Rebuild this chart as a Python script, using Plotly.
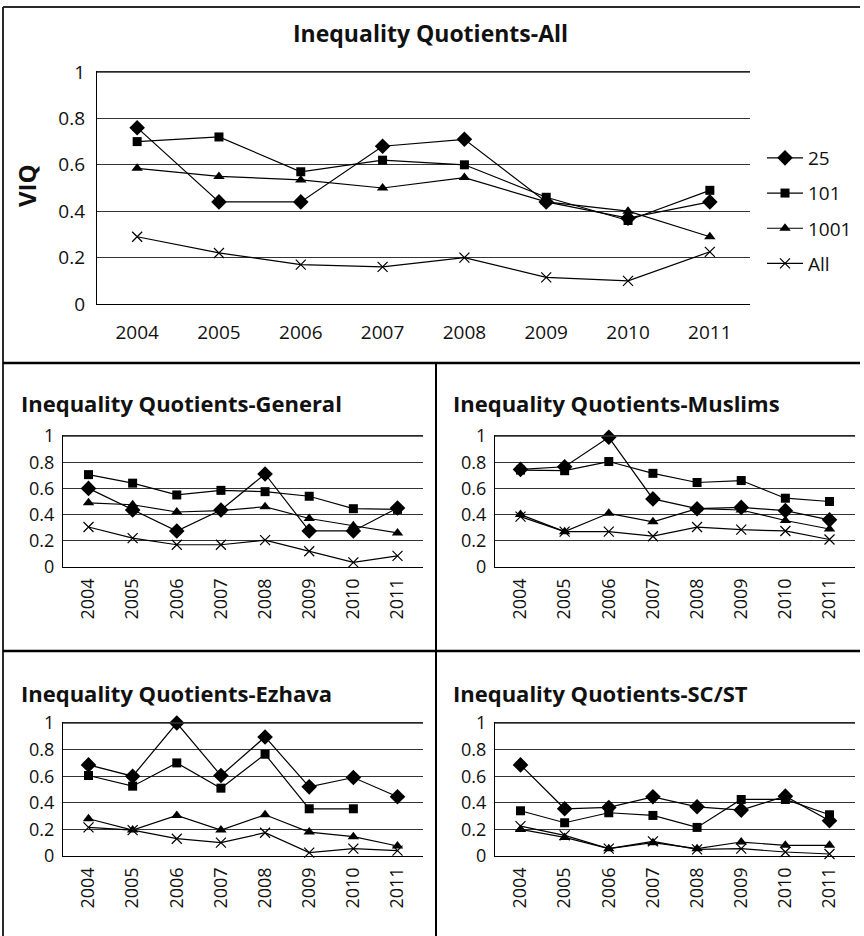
import plotly.graph_objects as go

# ---------------- data ----------------
years = ['2004', '2005', '2006', '2007', '2008', '2009', '2010', '2011']
series_names = ['25', '101', '1001', 'All']

all_25 = [0.76, 0.44, 0.44, 0.68, 0.71, 0.44, 0.37, 0.44]
all_101 = [0.70, 0.72, 0.57, 0.62, 0.60, 0.46, 0.36, 0.49]
all_1001 = [0.585, 0.55, 0.535, 0.50, 0.545, 0.44, 0.40, 0.29]
all_all = [0.29, 0.22, 0.17, 0.16, 0.20, 0.115, 0.10, 0.225]

gen_25 = [0.60, 0.435, 0.275, 0.435, 0.71, 0.275, 0.275, 0.45]
gen_101 = [0.705, 0.64, 0.55, 0.585, 0.575, 0.54, 0.445, 0.44]
gen_1001 = [0.49, 0.475, 0.42, 0.43, 0.46, 0.37, 0.315, 0.26]
gen_all = [0.305, 0.22, 0.17, 0.17, 0.205, 0.12, 0.035, 0.085]

mus_25 = [0.745, 0.765, 0.99, 0.52, 0.445, 0.455, 0.43, 0.36]
mus_101 = [0.74, 0.735, 0.805, 0.715, 0.645, 0.66, 0.525, 0.50]
mus_1001 = [0.40, 0.27, 0.41, 0.345, 0.445, 0.435, 0.355, 0.29]
mus_all = [0.385, 0.27, 0.27, 0.235, 0.305, 0.285, 0.275, 0.21]

ezh_25 = [0.685, 0.60, 1.0, 0.605, 0.895, 0.52, 0.59, 0.445]
ezh_101 = [0.605, 0.525, 0.70, 0.51, 0.765, 0.355, 0.355, None]
ezh_1001 = [0.28, 0.195, 0.305, 0.195, 0.31, 0.18, 0.145, 0.075]
ezh_all = [0.215, 0.195, 0.13, 0.10, 0.175, 0.025, 0.055, 0.04]

sc_25 = [0.685, 0.355, 0.365, 0.445, 0.37, 0.345, 0.45, 0.265]
sc_101 = [0.34, 0.25, 0.325, 0.305, 0.215, 0.425, 0.425, 0.31]
sc_1001 = [0.20, 0.14, 0.055, 0.10, 0.055, 0.105, 0.08, 0.08]
sc_all = [0.225, 0.155, 0.055, 0.11, 0.05, 0.055, 0.03, 0.015]

panel_titles = ['Inequality Quotients-All', 'Inequality Quotients-General',
                'Inequality Quotients-Muslims', 'Inequality Quotients-Ezhava',
                'Inequality Quotients-SC/ST']
y_ticks = [0, 0.2, 0.4, 0.6, 0.8, 1]
y_ticktext = ['0', '0.2', '0.4', '0.6', '0.8', '1']
y_max = 1
y_title = 'VIQ'

panels = [
    [all_25, all_101, all_1001, all_all],
    [gen_25, gen_101, gen_1001, gen_all],
    [mus_25, mus_101, mus_1001, mus_all],
    [ezh_25, ezh_101, ezh_1001, ezh_all],
    [sc_25, sc_101, sc_1001, sc_all],
]

# ---------------- layout helpers (pixel geometry) ----------------
W, H = 864, 936
FONT = '"Open Sans", Lato, sans-serif'
TXT = '#111111'
GRID = '#333333'


def px_x(v):
    return v / W


def px_y(v):
    return 1 - v / H


# plot-area boxes in pixels: (left, right, top, bottom)
boxes = [
    (97, 750, 72, 304),
    (63, 423, 436, 567),
    (495, 855, 436, 567),
    (63, 423, 723, 856),
    (495, 855, 723, 856),
]
title_pos = [(430, 33, 'center'), (19, 403, 'left'), (451, 403, 'left'),
             (19, 693, 'left'), (451, 693, 'left')]

markers = [
    dict(symbol='diamond', size=12, color='black', line=dict(width=0)),
    dict(symbol='square', size=9, color='black', line=dict(width=0)),
    dict(symbol='triangle-up', size=10, color='black', line=dict(width=0)),
    dict(symbol='x-thin', size=10, color='black', line=dict(width=1.2, color='black')),
]

fig = go.Figure()

for p, data in enumerate(panels):
    xa = 'x' if p == 0 else f'x{p+1}'
    ya = 'y' if p == 0 else f'y{p+1}'
    for s, vals in enumerate(data):
        fig.add_trace(go.Scatter(
            x=years, y=vals, mode='lines+markers',
            name=series_names[s],
            legendgroup=series_names[s],
            showlegend=(p == 0),
            line=dict(color='black', width=1.2),
            marker=markers[s],
            connectgaps=False, cliponaxis=False,
            xaxis=xa, yaxis=ya,
        ))

layout = dict(
    template='none',
    width=W, height=H, autosize=False,
    margin=dict(l=0, r=0, t=0, b=0, pad=0, autoexpand=False),
    paper_bgcolor='white', plot_bgcolor='white',
    font=dict(family=FONT, color=TXT),
    showlegend=True,
    legend=dict(
        x=px_x(762), xanchor='left', y=px_y(139), yanchor='top',
        font=dict(family=FONT, size=19, color=TXT),
        bgcolor='rgba(0,0,0,0)', borderwidth=0,
        tracegroupgap=7.5, itemwidth=36,
    ),
)

for p, (l, r, t, b) in enumerate(boxes):
    xk = 'xaxis' if p == 0 else f'xaxis{p+1}'
    yk = 'yaxis' if p == 0 else f'yaxis{p+1}'
    top = (p == 0)
    layout[xk] = dict(
        domain=[px_x(l), px_x(r)], anchor='y' if p == 0 else f'y{p+1}',
        type='category', categoryorder='array', categoryarray=years,
        showgrid=False, showline=True, linecolor='black', linewidth=1.3,
        mirror=True, automargin=False,
        ticks='', tickangle=0 if top else -90,
        ticklabelstandoff=11 if top else 3,
        tickfont=dict(family=FONT, size=19 if top else 18, color=TXT),
        zeroline=False, fixedrange=True,
    )
    layout[yk] = dict(
        domain=[px_y(b), px_y(t)], anchor='x' if p == 0 else f'x{p+1}',
        range=[0, y_max], tickvals=y_ticks, ticktext=y_ticktext,
        showgrid=True, gridcolor=GRID, gridwidth=1.3,
        showline=True, linecolor='black', linewidth=1.3,
        ticks='', zeroline=False, automargin=False,
        ticklabelstandoff=7 if top else 4,
        tickfont=dict(family=FONT, size=19 if top else 18, color=TXT),
        fixedrange=True,
    )

fig.update_layout(**layout)

annotations = []
for p, (tx, ty, anchor) in enumerate(title_pos):
    annotations.append(dict(
        x=px_x(tx), y=px_y(ty), xref='paper', yref='paper',
        text=f'<b>{panel_titles[p]}</b>', showarrow=False,
        xanchor=anchor, yanchor='middle',
        font=dict(family=FONT, size=23 if p == 0 else 22, color=TXT),
    ))
annotations.append(dict(
    x=px_x(27), y=px_y(186), xref='paper', yref='paper',
    text=f'<b>{y_title}</b>', showarrow=False, textangle=-90,
    xanchor='center', yanchor='middle',
    font=dict(family=FONT, size=24, color=TXT),
))
fig.update_layout(annotations=annotations)

# top gridline (axis maximum) for every panel: drawn on the edge of each plot box
shapes = []
for (l, r, t, b) in boxes:
    shapes.append(dict(type='line', xref='paper', yref='paper', layer='above',
                       x0=px_x(l), x1=px_x(r), y0=px_y(t), y1=px_y(t),
                       line=dict(color=GRID, width=1.5)))

# panel borders
border = dict(color='#2a2a2a', width=2)
shapes += [
    dict(type='line', xref='paper', yref='paper', x0=px_x(3), x1=px_x(860), y0=px_y(7), y1=px_y(7), line=border),
    dict(type='line', xref='paper', yref='paper', x0=px_x(3), x1=px_x(3), y0=px_y(7), y1=px_y(936), line=border),
    dict(type='line', xref='paper', yref='paper', x0=px_x(3), x1=px_x(860), y0=px_y(363), y1=px_y(363), line=dict(color='black', width=2.5)),
    dict(type='line', xref='paper', yref='paper', x0=px_x(436), x1=px_x(436), y0=px_y(363), y1=px_y(936), line=dict(color='black', width=2)),
    dict(type='line', xref='paper', yref='paper', x0=px_x(3), x1=px_x(860), y0=px_y(651), y1=px_y(651), line=dict(color='black', width=2.5)),
]
fig.update_layout(shapes=shapes)

fig.write_html('out.html', config=dict(displayModeBar=False),
               post_script="document.body.style.margin='0';document.body.style.overflow='hidden';")
